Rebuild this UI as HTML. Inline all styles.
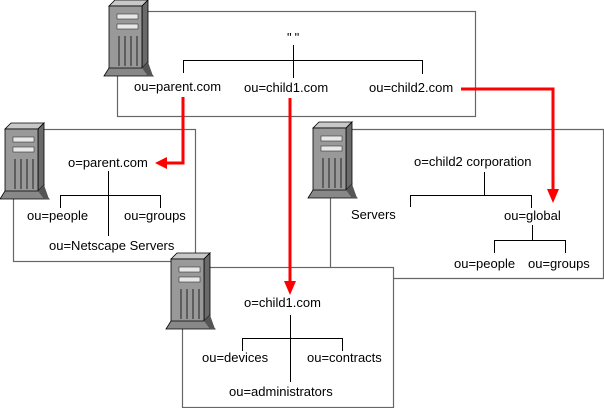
<!DOCTYPE html>
<html><head><meta charset="utf-8"><style>
body{margin:0;background:#fff;}
svg{display:block;}
text{font-family:"Liberation Sans",sans-serif;font-size:13px;fill:#000;}
</style></head><body>
<svg width="604" height="408" viewBox="0 0 604 408" xmlns="http://www.w3.org/2000/svg">
<defs>
<g id="srv">
<polygon points="5,6 11,0 44,0 38,6" fill="#c8c8c8" stroke="#000" stroke-width="0.8"/>
<polygon points="38,6 44,0 44,62 38,70" fill="#6a6a6a" stroke="#000" stroke-width="0.8"/>
<rect x="5" y="6" width="33" height="64" fill="#999" stroke="#000" stroke-width="0.8"/>
<polygon points="0,76 5,68 38,68 44,62 44,70 49,76" fill="#888" stroke="#000" stroke-width="0.8"/>
<polygon points="38,68 44,62 49,76 44,76" fill="#555"/>
<rect x="13" y="14" width="21" height="5" fill="#e8e8e8" stroke="#333" stroke-width="0.6"/>
<rect x="13" y="24" width="21" height="5" fill="#e8e8e8" stroke="#333" stroke-width="0.6"/>
<g stroke="#222" stroke-width="1"><line x1="15" y1="36" x2="15" y2="66"/><line x1="21" y1="36" x2="21" y2="66"/><line x1="27" y1="36" x2="27" y2="66"/><line x1="33" y1="36" x2="33" y2="66"/></g>
</g>
</defs>
<g fill="#fff" stroke="#666" stroke-width="1.2">
<rect x="117.5" y="11.5" width="358" height="105"/>
<rect x="13.5" y="129.5" width="182" height="132"/>
<polyline points="330.5,129.5 603.5,129.5 603.5,278.5 393.5,278.5" fill="none"/>
<line x1="330.5" y1="129.5" x2="330.5" y2="267.5"/>
<rect x="182.5" y="267.5" width="211" height="140"/>
</g>
<use href="#srv" x="104" y="0"/>
<use href="#srv" x="0" y="123"/>
<use href="#srv" x="308" y="122"/>
<use href="#srv" x="166" y="253"/>
<g stroke="#000" stroke-width="1" fill="none">
<line x1="293.5" y1="45" x2="293.5" y2="78"/>
<polyline points="183.5,73 183.5,60.5 422.5,60.5 422.5,74"/>
<line x1="108.5" y1="171" x2="108.5" y2="236"/>
<polyline points="60.5,208 60.5,195.5 160.5,195.5 160.5,208"/>
<line x1="484.5" y1="172" x2="484.5" y2="195"/>
<polyline points="410.5,207 410.5,195.5 531.5,195.5 531.5,208"/>
<line x1="532.5" y1="225" x2="532.5" y2="240"/>
<polyline points="494.5,253 494.5,240.5 565.5,240.5 565.5,253"/>
<line x1="290.5" y1="315" x2="290.5" y2="382"/>
<polyline points="242.5,351 242.5,338.5 342.5,338.5 342.5,351"/>
</g>
<g stroke="#f00" stroke-width="3" fill="none">
<polyline points="183,97 183,163 165,163"/>
<line x1="290" y1="98" x2="290" y2="284"/>
<polyline points="461,89 553,89 553,192"/>
</g>
<g fill="#f00">
<polygon points="155,163 167,157 167,169"/>
<polygon points="290,295 284,281 296,281"/>
<polygon points="553,203 547,189 559,189"/>
</g>
<text x="287" y="42" letter-spacing="3">""</text>
<text x="134" y="91">ou=parent.com</text>
<text x="244" y="92">ou=child1.com</text>
<text x="369" y="92">ou=child2.com</text>
<text x="68" y="167">o=parent.com</text>
<text x="27" y="220">ou=people</text>
<text x="124" y="220">ou=groups</text>
<text x="49" y="250">ou=Netscape Servers</text>
<text x="414" y="166">o=child2 corporation</text>
<text x="351" y="219">Servers</text>
<text x="504" y="220">ou=global</text>
<text x="454" y="268">ou=people</text>
<text x="528" y="268">ou=groups</text>
<text x="244" y="307">o=child1.com</text>
<text x="202" y="362">ou=devices</text>
<text x="307" y="362">ou=contracts</text>
<text x="229" y="396">ou=administrators</text>
</svg>
</body></html>
